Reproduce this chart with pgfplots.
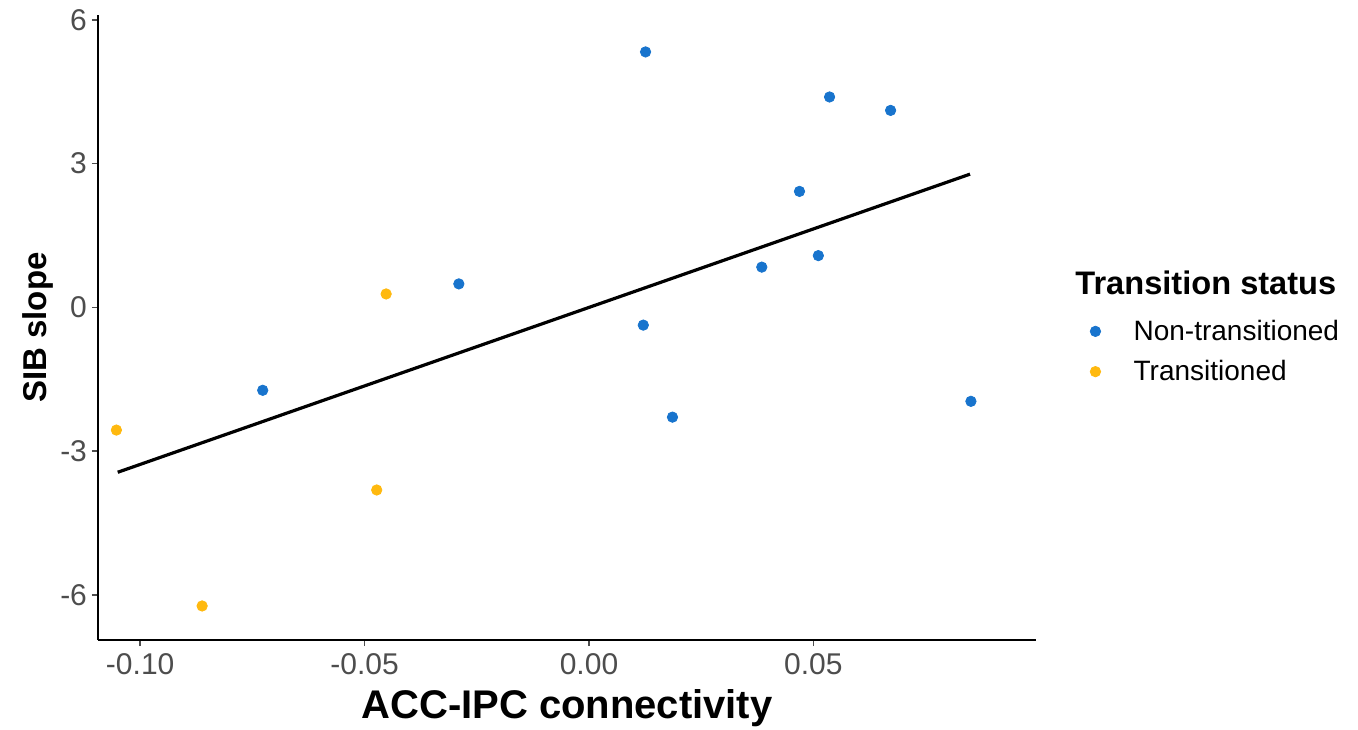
\documentclass[border=0pt]{standalone}
\usepackage{pgfplots}
\pgfplotsset{compat=1.18}
\usepackage{fontspec}
\setmainfont{Liberation Sans}
\definecolor{ntblue}{RGB}{24,116,205}
\definecolor{torange}{RGB}{255,185,15}
\definecolor{tickgray}{RGB}{77,77,77}
\begin{document}
\begin{tikzpicture}
\useasboundingbox (0,0) rectangle (679pt,364.5pt);
\begin{axis}[
  at={(49pt,44.5pt)}, anchor=south west,
  scale only axis, width=469pt, height=312.5pt,
  xmin=-0.1094, xmax=0.0996, ymin=-6.94, ymax=6.10,
  axis x line*=bottom, axis y line*=left,
  axis line style={black, line width=1pt, -},
  xtick={-0.1,-0.05,0,0.05}, xticklabels={-0.10,-0.05,0.00,0.05},
  ytick={-6,-3,0,3,6}, yticklabels={-6,-3,0,3,6},
  tick align=outside, major tick length=3pt,
  tick style={tickgray, line width=0.8pt},
  ticklabel style={font=\fontsize{15pt}{18pt}\selectfont, text=tickgray},
  xticklabel style={yshift=0pt},
  yticklabel style={xshift=1pt},
  xlabel={\textbf{ACC-IPC connectivity}},
  ylabel={\textbf{SIB slope}},
  xlabel style={font=\fontsize{20pt}{24pt}\selectfont, at={(axis description cs:0.5,-0.1248)}, anchor=base},
  ylabel style={font=\fontsize{16.5pt}{20pt}\selectfont, at={(axis description cs:-0.064,0.5)}, anchor=center},
  legend style={at={(axis description cs:1.051,0.4616)}, anchor=west, draw=none, fill=none,
    font=\fontsize{14pt}{17pt}\selectfont, row sep=4.5pt,
    /tikz/every odd column/.append style={column sep=14.5pt}},
  legend cell align=left,
  clip=false,
]
\addplot[only marks, mark=*, mark size=2.6pt, color=ntblue] coordinates {
(0.0126,5.33) (0.0536,4.39) (0.0672,4.11) (0.0469,2.42) (0.0385,0.84)
(0.0511,1.08) (0.0121,-0.37) (0.0186,-2.29) (0.0851,-1.96)
(-0.0727,-1.73) (-0.0290,0.49)
};
\addlegendentry{Non-transitioned}
\addplot[only marks, mark=*, mark size=2.6pt, color=torange] coordinates {
(-0.1053,-2.56) (-0.0473,-3.81) (-0.0862,-6.23) (-0.0452,0.28)
};
\addlegendentry{Transitioned}
\addplot[black, line width=1.6pt, forget plot] coordinates {(-0.1050,-3.44) (0.0849,2.78)};
\node[anchor=west, inner sep=0pt, font=\fontsize{16.3pt}{20pt}\selectfont\bfseries] at (axis description cs:1.0416,0.5712) {Transition status};
\end{axis}
\end{tikzpicture}
\end{document}
